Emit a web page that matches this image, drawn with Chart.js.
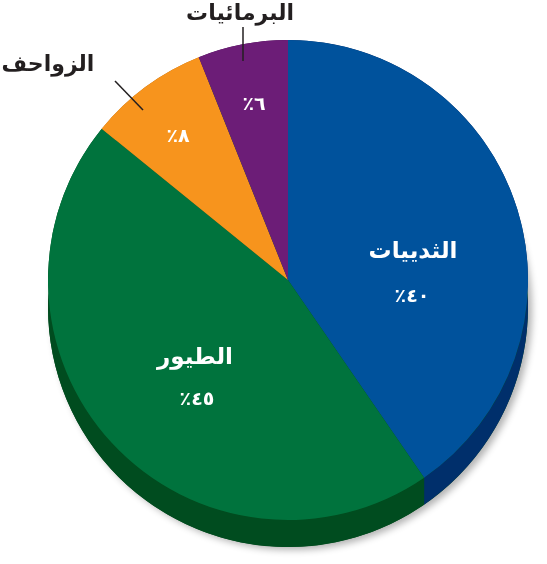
<!DOCTYPE html>
<html>
<head>
<meta charset="utf-8">
<script src="https://cdn.jsdelivr.net/npm/chart.js@4"></script>
<style>
html,body{margin:0;padding:0;background:#fff;}
#wrap{width:547px;height:564px;}
</style>
</head>
<body>
<div id="wrap"><canvas id="c" width="547" height="564"></canvas></div>
<script>
const categories = ['الثدييات', 'الطيور', 'الزواحف', 'البرمائيات'];
const values = [40, 45, 8, 6];
const percentLabels = ['\u200E٪٤٠', '\u200E٪٤٥', '\u200E٪٨', '\u200E٪٦'];
const topColors = ['#00529C', '#00733D', '#F7941D', '#6C1D77'];
const sideColors = ['#002F6B', '#004C1F', '#B86A0E', '#43104B'];

const DEPTH = 27;
const FONT = "'DejaVu Sans', 'Noto Sans', sans-serif";

const depthPlugin = {
  id: 'depth',
  beforeDatasetsDraw(chart) {
    const ctx = chart.ctx;
    const meta = chart.getDatasetMeta(0);
    const a0 = meta.data[0].getProps(['x','y','outerRadius']);
    ctx.save();
    ctx.shadowColor = 'rgba(0,0,0,0.30)';
    ctx.shadowBlur = 7;
    ctx.shadowOffsetX = 4;
    ctx.shadowOffsetY = 3;
    ctx.beginPath();
    ctx.arc(a0.x, a0.y + DEPTH, a0.outerRadius, 0, Math.PI * 2);
    ctx.fillStyle = sideColors[1];
    ctx.fill();
    ctx.restore();
    ctx.save();
    meta.data.forEach((arc, i) => {
      const p = arc.getProps(['x','y','startAngle','endAngle','outerRadius']);
      ctx.beginPath();
      ctx.arc(p.x, p.y, p.outerRadius, p.startAngle, p.endAngle);
      ctx.arc(p.x, p.y + DEPTH, p.outerRadius, p.endAngle, p.startAngle, true);
      ctx.closePath();
      ctx.fillStyle = sideColors[i];
      ctx.fill();
    });
    ctx.restore();
  }
};

const innerPos = [
  {name:[125,-28], pct:[124,17]},
  {name:[-93,78], pct:[-91,120]},
  {name:null, pct:[-110,-143]},
  {name:null, pct:[-34,-175]}
];
const outerPos = [null, null,
  {text:[-240,-215], line:[[-173,-199],[-145,-170]]},
  {text:[-48,-266], line:[[-45,-253],[-45,-219]]}
];

const labelPlugin = {
  id: 'labels',
  afterDraw(chart) {
    const ctx = chart.ctx;
    const arc0 = chart.getDatasetMeta(0).data[0];
    const cx = arc0.x, cy = arc0.y;
    ctx.save();
    ctx.direction = 'ltr';
    ctx.textAlign = 'center';
    ctx.textBaseline = 'middle';
    categories.forEach((cat, i) => {
      const ip = innerPos[i];
      ctx.fillStyle = '#ffffff';
      if (ip.name) {
        ctx.font = 'bold 23px ' + FONT;
        ctx.fillText(cat, cx + ip.name[0], cy + ip.name[1]);
      }
      ctx.font = 'bold 19px ' + FONT;
      ctx.fillText(percentLabels[i], cx + ip.pct[0], cy + ip.pct[1]);
      const op = outerPos[i];
      if (op) {
        ctx.fillStyle = '#231F20';
        ctx.font = 'bold 22px ' + FONT;
        ctx.fillText(cat, cx + op.text[0], cy + op.text[1]);
        ctx.strokeStyle = '#231F20';
        ctx.lineWidth = 1.5;
        ctx.beginPath();
        ctx.moveTo(cx + op.line[0][0], cy + op.line[0][1]);
        ctx.lineTo(cx + op.line[1][0], cy + op.line[1][1]);
        ctx.stroke();
      }
    });
    ctx.restore();
  }
};

new Chart(document.getElementById('c'), {
  type: 'pie',
  data: {
    labels: categories,
    datasets: [{
      data: values,
      backgroundColor: topColors,
      borderWidth: 0
    }]
  },
  options: {
    responsive: false,
    animation: false,
    layout: {padding: {left: 48, right: 19, top: 40, bottom: 44}},
    plugins: {legend: {display: false}, tooltip: {enabled: false}}
  },
  plugins: [depthPlugin, labelPlugin]
});
</script>
</body>
</html>
